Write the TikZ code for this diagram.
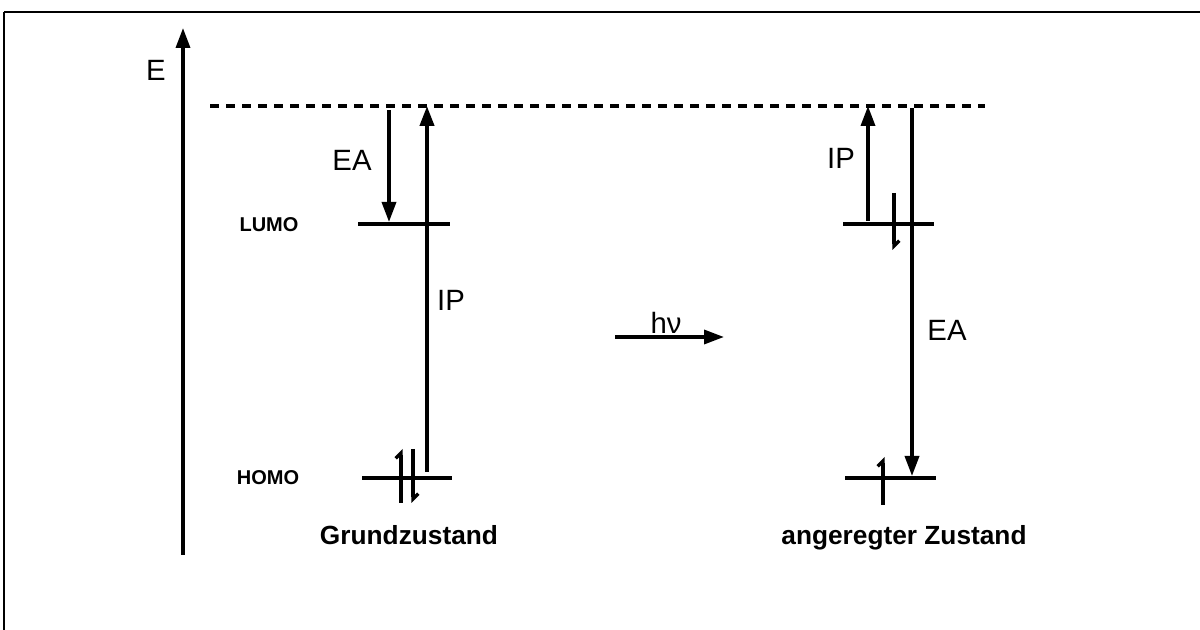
\documentclass[tikz,border=0pt]{standalone}
\usepackage{fontspec}
\setmainfont{Liberation Sans}
\usetikzlibrary{arrows.meta}

\tikzset{
  niveau/.style={line width=2.5pt},
  pfeil/.style={line width=2.6pt,-{Triangle[length=15pt,width=10.5pt]}},
  spin/.style={line width=2.5pt,-{Straight Barb[left,length=4pt,width=8pt]}},
  beschr/.style={font=\fontsize{22}{26}\selectfont},
  orbital/.style={font=\bfseries\fontsize{15}{18}\selectfont},
  zustand/.style={font=\bfseries\fontsize{19.7}{24}\selectfont, anchor=base},
}

\begin{document}
\begin{tikzpicture}[x=0.75pt,y=-0.75pt]
    \useasboundingbox (0,0) rectangle (1200,630);

    % Rahmen
    \draw[line width=0.8pt] (4,630) -- (4,12);
    \draw[line width=1.5pt] (4,12) -- (1200,12);

    % Energieachse
    \coordinate (achse0) at (183,555);
    \coordinate (achse1) at (183,28);
    \draw[pfeil] (achse0) -- (achse1);
    \node[beschr] (E) at (156,70) {E};

    % Vakuumniveau
    \coordinate (vak0) at (210,106);
    \coordinate (vak1) at (985,106);
    \draw[niveau, dash pattern=on 6.5pt off 5.5pt] (vak0) -- (vak1);

    % Grundzustand
    \coordinate (gL0) at (358,224);
    \coordinate (gL1) at (450,224);
    \coordinate (gH0) at (362,478);
    \coordinate (gH1) at (452,478);
    \draw[niveau] (gL0) -- (gL1);
    \draw[niveau] (gH0) -- (gH1);
    \node[orbital] (lumo) at (269,225) {LUMO};
    \node[orbital] (homo) at (268,478) {HOMO};

    \coordinate (gEA0) at (389,110);
    \coordinate (gEA1) at (389,222);
    \draw[pfeil] (gEA0) -- (gEA1);
    \node[beschr] (gEA) at (352,160) {EA};

    \coordinate (gIP0) at (427,472);
    \coordinate (gIP1) at (427,106);
    \draw[pfeil, line width=3pt] (gIP0) -- (gIP1);
    \node[beschr] (gIP) at (451,300) {IP};

    \coordinate (gS1a) at (401,503);
    \coordinate (gS1b) at (401,449);
    \coordinate (gS2a) at (413,449);
    \coordinate (gS2b) at (413,503);
    \draw[spin] (gS1a) -- (gS1b);
    \draw[spin] (gS2a) -- (gS2b);

    \node[zustand] (grund) at (409,545) {Grundzustand};

    % Anregung
    \coordinate (hv0) at (615,337);
    \coordinate (hv1) at (724,337);
    \draw[pfeil] (hv0) -- (hv1);
    \node[beschr] (hv) at (666,323) {hν};

    % angeregter Zustand
    \coordinate (aL0) at (843,224);
    \coordinate (aL1) at (934,224);
    \coordinate (aH0) at (845,478);
    \coordinate (aH1) at (936,478);
    \draw[niveau] (aL0) -- (aL1);
    \draw[niveau] (aH0) -- (aH1);

    \coordinate (aIP0) at (868,221);
    \coordinate (aIP1) at (868,106);
    \draw[pfeil] (aIP0) -- (aIP1);
    \node[beschr] (aIP) at (841,158) {IP};

    \coordinate (aEA0) at (912,108);
    \coordinate (aEA1) at (912,476);
    \draw[pfeil] (aEA0) -- (aEA1);
    \node[beschr] (aEA) at (947,330) {EA};

    \coordinate (aS1a) at (894,193);
    \coordinate (aS1b) at (894,250);
    \coordinate (aS2a) at (883,505);
    \coordinate (aS2b) at (883,457);
    \draw[spin] (aS1a) -- (aS1b);
    \draw[spin] (aS2a) -- (aS2b);

    \node[zustand] (angeregt) at (904,545) {angeregter Zustand};
\end{tikzpicture}
\end{document}
